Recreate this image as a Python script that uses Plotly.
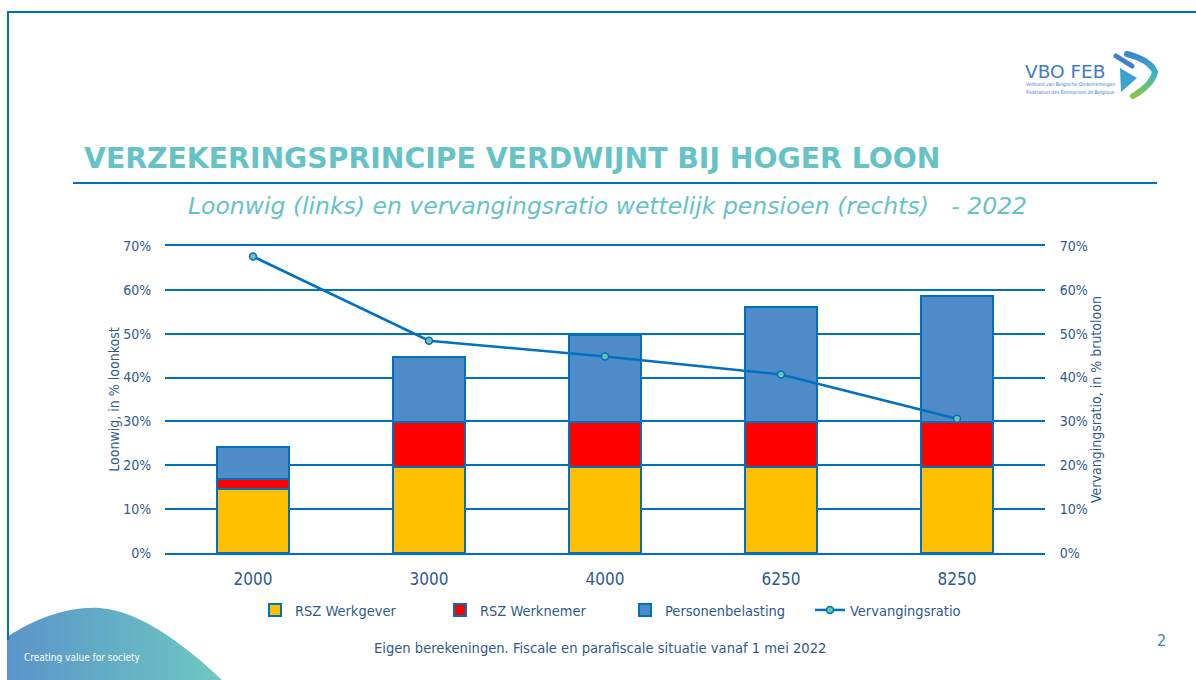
import plotly.graph_objects as go
from urllib.parse import quote

# ---------------- data ----------------
categories = ["2000", "3000", "4000", "6250", "8250"]
rsz_werkgever = [0.145, 0.197, 0.197, 0.197, 0.197]
rsz_werknemer = [0.023, 0.102, 0.102, 0.102, 0.102]
personenbelasting = [0.073, 0.147, 0.197, 0.261, 0.288]
vervangingsratio = [0.676, 0.484, 0.448, 0.407, 0.306]
y_tickvals = [0, 0.1, 0.2, 0.3, 0.4, 0.5, 0.6, 0.7]
y_ticktext = ["0%", "10%", "20%", "30%", "40%", "50%", "60%", "70%"]

title_text = "VERZEKERINGSPRINCIPE VERDWIJNT BIJ HOGER LOON"
subtitle_text = "Loonwig (links) en vervangingsratio wettelijk pensioen (rechts)\u00a0\u00a0\u00a0- 2022"
footer_text = "Eigen berekeningen. Fiscale en parafiscale situatie vanaf 1 mei 2022"

# ---------------- geometry helpers ----------------
W, H = 1196, 680
L, R, T, B = 165, 1045, 246, 553
YMIN, YMAX = 0, 0.7


def px(x):
    return (x - L) / (R - L)


def py(y):
    return (B - y) / (B - T)


BLUE = "#0070C0"
TXT = "#2F5A8C"
TEAL = "#65C3C6"
FONT = "DejaVu Sans Condensed, Liberation Sans, sans-serif"

fig = go.Figure()
fig.add_trace(go.Bar(name="RSZ Werkgever", x=categories, y=rsz_werkgever,
                     marker=dict(color="#FFC000", line=dict(color=BLUE, width=2))))
fig.add_trace(go.Bar(name="RSZ Werknemer", x=categories, y=rsz_werknemer,
                     marker=dict(color="#FF0000", line=dict(color=BLUE, width=2))))
fig.add_trace(go.Bar(name="Personenbelasting", x=categories, y=personenbelasting,
                     marker=dict(color="#4F8BC9", line=dict(color=BLUE, width=2))))
fig.add_trace(go.Scatter(name="Vervangingsratio", x=categories, y=vervangingsratio,
                         mode="lines+markers", yaxis="y2",
                         line=dict(color=BLUE, width=2.5),
                         marker=dict(size=7, color="#6CC3AE", line=dict(color=BLUE, width=1.5))))

# ---------------- decorative background (svg) ----------------
svg = f"""<svg xmlns='http://www.w3.org/2000/svg' width='{W}' height='{H}' viewBox='0 0 {W} {H}'>
<defs>
<linearGradient id='w' x1='0' x2='1' y1='0' y2='0'>
<stop offset='0' stop-color='#5A93C9'/><stop offset='1' stop-color='#6DC9C1'/></linearGradient>
<linearGradient id='g' x1='0' y1='0' x2='0' y2='1'>
<stop offset='0' stop-color='#3C84D4'/><stop offset='0.5' stop-color='#3CB9BE'/><stop offset='1' stop-color='#8DC63F'/></linearGradient>
</defs>
<path d='M7,637 C35,618 70,606 100,608 C140,611 185,645 222,680 L7,680 Z' fill='url(#w)'/>
<path d='M1116,56 L1132,66' stroke='#3C7ED0' stroke-width='5' stroke-linecap='round' fill='none'/>
<path d='M1127,54 Q1150,60 1155,72 Q1152,85 1133,96' stroke='url(#g)' stroke-width='6' stroke-linecap='round' fill='none'/>
<path d='M1120,68 L1137,78 L1121,92 Z' fill='#3AA2CF'/>
</svg>"""
fig.add_layout_image(dict(source="data:image/svg+xml;charset=utf-8," + quote(svg),
                          xref="paper", yref="paper", x=px(0), y=py(0),
                          sizex=W / (R - L), sizey=H / (B - T),
                          xanchor="left", yanchor="top", sizing="stretch", layer="below"))

shapes = [
    dict(type="line", xref="paper", yref="paper", x0=px(7), x1=px(W), y0=py(12), y1=py(12),
         line=dict(color=BLUE, width=2)),
    dict(type="line", xref="paper", yref="paper", x0=px(8), x1=px(8), y0=py(12), y1=py(640),
         line=dict(color=BLUE, width=2)),
    dict(type="line", xref="paper", yref="paper", x0=px(73), x1=px(1157), y0=py(183), y1=py(183),
         line=dict(color=BLUE, width=2)),
]

annotations = [
    dict(text=f"<b>{title_text}</b>", x=px(82), y=py(158), xanchor="left", yanchor="middle",
         font=dict(family="DejaVu Sans", size=28.3, color=TEAL)),
    dict(text=f"<i>{subtitle_text}</i>", x=px(607), y=py(206), xanchor="center", yanchor="middle",
         font=dict(family="DejaVu Sans", size=23.5, color=TEAL)),
    dict(text=footer_text, x=px(600), y=py(647), xanchor="center", yanchor="middle",
         font=dict(family=FONT, size=14.6, color=TXT)),
    dict(text="2", x=px(1161), y=py(640), xanchor="center", yanchor="middle",
         font=dict(family=FONT, size=16, color="#3C7DC4")),
    dict(text="Creating value for society", x=px(22), y=py(657), xanchor="left", yanchor="middle",
         font=dict(family=FONT, size=10, color="white")),
    dict(text="VBO FEB", x=px(1023), y=py(71), xanchor="left", yanchor="middle",
         font=dict(family="DejaVu Sans", size=18.5, color="#3E7CC4")),
    dict(text="Verbond van Belgische Ondernemingen", x=px(1024), y=py(84), xanchor="left",
         yanchor="middle", font=dict(family=FONT, size=5, color="#3E7CC4")),
    dict(text="Fédération des Entreprises de Belgique", x=px(1024), y=py(92), xanchor="left",
         yanchor="middle", font=dict(family=FONT, size=5, color="#3E7CC4")),
]
for a in annotations:
    a.update(xref="paper", yref="paper", showarrow=False)

fig.update_layout(
    width=W, height=H, autosize=False,
    margin=dict(l=L, r=W - R, t=T, b=H - B, pad=0),
    paper_bgcolor="white", plot_bgcolor="rgba(0,0,0,0)",
    barmode="stack", bargap=0.59,
    font=dict(family=FONT, size=14, color=TXT),
    showlegend=True,
    legend=dict(orientation="h", x=px(255), xanchor="left", y=py(610), yanchor="middle",
                font=dict(size=14.5, color=TXT), traceorder="normal",
                entrywidth=140, entrywidthmode="pixels"),
    xaxis=dict(type="category", showgrid=False, zeroline=False,
               showline=True, linecolor=BLUE, linewidth=2, mirror=True,
               tickfont=dict(size=17, color=TXT), ticks="outside", ticklen=10,
               tickcolor="rgba(0,0,0,0)"),
    yaxis=dict(range=[YMIN, YMAX], tickvals=y_tickvals, ticktext=y_ticktext,
               showgrid=True, gridcolor=BLUE, gridwidth=2, zeroline=False, showline=False,
               ticks="outside", ticklen=10, tickcolor="rgba(0,0,0,0)",
               tickfont=dict(size=14, color=TXT),
               title=dict(text="Loonwig, in % loonkost", standoff=0, font=dict(size=14, color=TXT))),
    yaxis2=dict(range=[YMIN, YMAX], tickvals=y_tickvals, ticktext=y_ticktext, overlaying="y",
                side="right", showgrid=False, zeroline=False, showline=False,
                ticks="outside", ticklen=11, tickcolor="rgba(0,0,0,0)",
                tickfont=dict(size=14, color=TXT),
                title=dict(text="Vervangingsratio, in % brutoloon", standoff=4,
                           font=dict(size=14, color=TXT))),
    shapes=shapes, annotations=annotations,
)

fig.write_html("out.html", config={"displayModeBar": False},
               post_script="document.body.style.margin='0';")
